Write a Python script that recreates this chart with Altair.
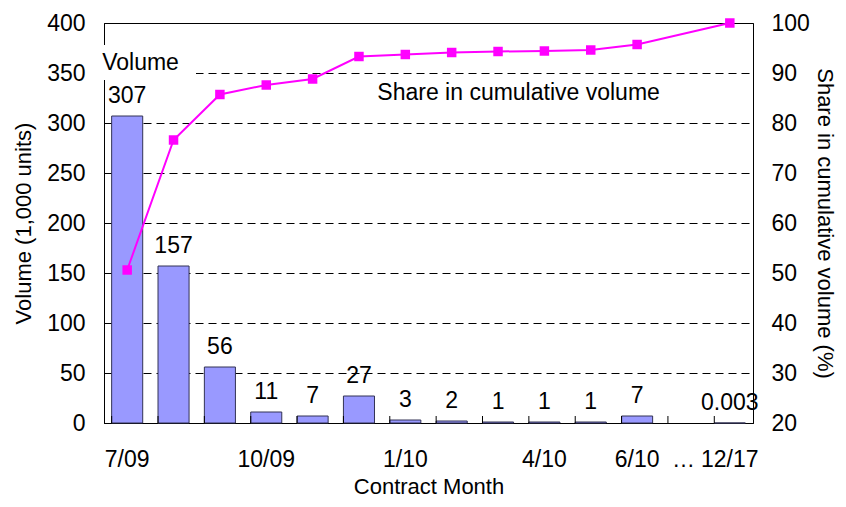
import altair as alt
import pandas as pd

months = ["7/09", "8/09", "9/09", "10/09", "11/09", "12/09", "1/10", "2/10",
          "3/10", "4/10", "5/10", "6/10", "…", "12/17"]
shown_labels = ["7/09", "10/09", "1/10", "4/10", "6/10", "…", "12/17"]
volume = [307, 157, 56, 11, 7, 27, 3, 2, 1, 1, 1, 7, None, 0.003]
volume_text = ["307", "157", "56", "11", "7", "27", "3", "2", "1", "1", "1", "7", "", "0.003"]
share = [50.6, 76.6, 85.7, 87.6, 88.8, 93.3, 93.7, 94.1, 94.3, 94.4, 94.6, 95.7, None, 100]

df = pd.DataFrame({"month": months, "volume": volume, "vtext": volume_text, "share": share})

FONT = "Liberation Sans"
FS = 23
TFS = 22

label_expr = "indexof(" + str(shown_labels) + ", datum.value) >= 0 ? datum.value : ''"

xscale = alt.Scale(paddingInner=0.33, paddingOuter=0.165)
x_axis = alt.Axis(title="Contract Month", labelExpr=label_expr, labelAngle=0,
                  ticks=False, labelPadding=25, titlePadding=5,
                  domainColor="#000000", grid=False)
x_enc = alt.X("month:N", sort=months, scale=xscale, axis=x_axis)

vscale = alt.Scale(domain=[0, 400], nice=False)
sscale = alt.Scale(domain=[20, 100], nice=False)
v_axis = alt.Axis(title="Volume (1,000 units)", values=list(range(0, 401, 50)),
                  grid=True, gridDash=[8, 5], gridColor="#000000", gridOpacity=1,
                  ticks=False, labelPadding=19, titlePadding=11,
                  domainColor="#000000")
s_axis = alt.Axis(orient="right", title="Share in cumulative volume (%)",
                  values=list(range(20, 101, 10)), grid=False, ticks=False,
                  labelPadding=18, titlePadding=3, domainColor="#000000")

base = alt.Chart(df)

bars = base.mark_bar(fill="#9999FF", stroke="#333355", strokeWidth=1).encode(
    x=x_enc,
    y=alt.Y("volume:Q", scale=vscale, axis=v_axis),
).transform_filter("datum.volume != null")

ticks = base.mark_rule(color="#000000", strokeWidth=1).encode(
    x=alt.X("month:N", sort=months, scale=xscale, axis=x_axis, bandPosition=0),
    y=alt.value(400), y2=alt.value(393),
)

blank = base.mark_rect(fill="white").encode(
    x=alt.value(-5), x2=alt.value(92), y=alt.value(22), y2=alt.value(57),
).transform_filter("datum.month == '7/09'")

vlabels = base.mark_text(baseline="alphabetic", dy=-13, font=FONT, fontSize=FS, color="#000000").encode(
    x=x_enc,
    y=alt.Y("volume:Q", scale=vscale, axis=v_axis),
    text="vtext:N",
).transform_filter("datum.volume != null")

ann_vol = base.mark_text(align="left", baseline="alphabetic", dx=-25, font=FONT, fontSize=FS, color="#000000").encode(
    x=x_enc, y=alt.Y(datum=353, scale=vscale, axis=v_axis), text=alt.value("Volume"),
).transform_filter("datum.month == '7/09'")

ann_share = base.mark_text(align="left", baseline="alphabetic", dx=-28, font=FONT, fontSize=FS, color="#000000").encode(
    x=x_enc, y=alt.Y(datum=323, scale=vscale, axis=v_axis), text=alt.value("Share in cumulative volume"),
).transform_filter("datum.month == '1/10'")

left = alt.layer(bars, ticks, blank, vlabels, ann_vol, ann_share)

line = base.mark_line(color="#FF00FF", strokeWidth=2,
                      point=alt.OverlayMarkDef(shape="square", size=90, filled=True, color="#FF00FF", opacity=1)).encode(
    x=x_enc,
    y=alt.Y("share:Q", scale=sscale, axis=s_axis),
).transform_filter("datum.share != null")

chart = alt.layer(left, line).resolve_scale(y="independent").properties(
    width=649, height=400,
    autosize=alt.AutoSizeParams(type="none"),
    padding={"left": 96, "top": 15, "right": 85, "bottom": 76},
).configure_view(stroke="#000000", strokeWidth=1).configure_axis(
    labelFont=FONT, labelFontSize=FS, labelColor="#000000",
    titleFont=FONT, titleFontSize=TFS, titleColor="#000000", titleFontWeight="normal",
)

chart.save("out.html", embed_options={"renderer": "svg", "actions": False})
